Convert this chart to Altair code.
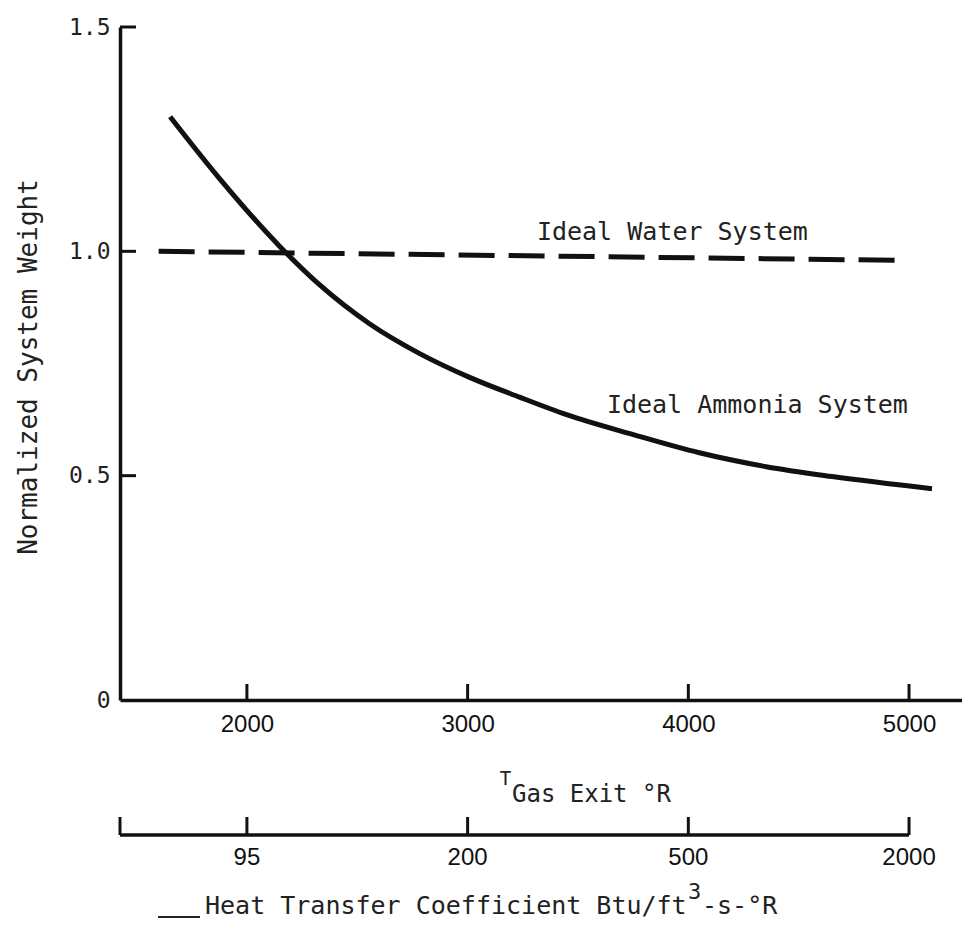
import altair as alt
import pandas as pd

# ---- data ----
t_ammonia = [1652, 1878, 2149, 2330, 2557, 2783, 3009, 3235, 3448, 3747, 4050, 4353, 4652, 5104]
w_ammonia = [1.300, 1.161, 1.011, 0.925, 0.838, 0.772, 0.719, 0.675, 0.636, 0.592, 0.551, 0.520, 0.498, 0.471]
t_water = [1600, 4960]
w_water = [1.0, 0.98]

x_ticks = [2000, 3000, 4000, 5000]
y_ticks = [0.5, 1.0, 1.5]
y_axis_values = [0, 0.5, 1.0, 1.5]

# secondary (heat transfer coefficient) axis, aligned to the T scale
h_start, h_end = 1425, 5000
h_tick_pos = [1425, 2000, 3000, 4000, 5000]
h_tick_pos_labeled = [2000, 3000, 4000, 5000]
h_labels = ["95", "200", "500", "2000"]

ann_text = ["Ideal Water System", "Ideal Ammonia System"]
ann_t = [3314, 3631]
ann_w = [1.043, 0.657]

W, H = 842, 673
MONO = "DejaVu Sans Mono"
SANS = "Liberation Sans"

xs = alt.Scale(domain=[1425, 5240], nice=False, zero=False)
ys = alt.Scale(domain=[0, 1.5], nice=False)

amm = pd.DataFrame({"t": t_ammonia, "w": w_ammonia})
wat = pd.DataFrame({"t": t_water, "w": w_water})

ammonia = alt.Chart(amm).mark_line(color="#111", strokeWidth=5, interpolate="monotone").encode(
    x=alt.X("t:Q", scale=xs, axis=alt.Axis(
        values=x_ticks, ticks=False, grid=False, title=None, domainColor="#111", domainWidth=3.5,
        labelFont=SANS, labelFontSize=24, labelColor="#111", labelPadding=12, format="d")),
    y=alt.Y("w:Q", scale=ys, axis=alt.Axis(
        values=y_axis_values, ticks=False, grid=False, domainColor="#111", domainWidth=3.5,
        labelFont=MONO, labelFontSize=23, labelColor="#222", labelPadding=10,
        labelExpr="datum.value == 0 ? '0' : format(datum.value, '.1f')",
        title="Normalized System Weight", titleFont=MONO, titleFontSize=26,
        titleFontWeight="normal", titleColor="#222", titleX=-92, titleY=H / 2 + 3,
        titleBaseline="middle", titleAngle=270)),
)

water = alt.Chart(wat).mark_line(color="#111", strokeWidth=5, strokeDash=[36, 14]).encode(
    x=alt.X("t:Q", scale=xs), y=alt.Y("w:Q", scale=ys))

xt = alt.Chart(pd.DataFrame({"t": x_ticks})).mark_rule(color="#111", strokeWidth=3).encode(
    x=alt.X("t:Q", scale=xs), y=alt.value(H), y2=alt.value(H - 16))

yt = alt.Chart(pd.DataFrame({"w": y_ticks})).mark_rule(color="#111", strokeWidth=3).encode(
    y=alt.Y("w:Q", scale=ys), x=alt.value(0), x2=alt.value(16))

ann = alt.Chart(pd.DataFrame({"t": ann_t, "w": ann_w, "s": ann_text})).mark_text(
    font=MONO, fontSize=25, color="#222", align="left", baseline="middle").encode(
    x=alt.X("t:Q", scale=xs), y=alt.Y("w:Q", scale=ys), text="s:N")

# x-axis title: T subscript "Gas Exit  °R"
tlab = alt.Chart(pd.DataFrame({"t": [3146], "s": ["T"]})).mark_text(
    font=MONO, fontSize=19, color="#222", align="left", baseline="middle").encode(
    x=alt.X("t:Q", scale=xs), y=alt.value(752), text="s:N")
glab = alt.Chart(pd.DataFrame({"t": [3201], "s": ["Gas Exit  °R"]})).mark_text(
    font=MONO, fontSize=24, color="#222", align="left", baseline="middle").encode(
    x=alt.X("t:Q", scale=xs), y=alt.value(768), text="s:N")

# secondary axis
h_line = alt.Chart(pd.DataFrame({"t": [h_start], "t2": [h_end]})).mark_rule(
    color="#111", strokeWidth=3.5).encode(
    x=alt.X("t:Q", scale=xs), x2="t2:Q", y=alt.value(808))
h_ticks = alt.Chart(pd.DataFrame({"t": h_tick_pos})).mark_rule(color="#111", strokeWidth=3).encode(
    x=alt.X("t:Q", scale=xs), y=alt.value(808), y2=alt.value(790))
h_lab = alt.Chart(pd.DataFrame({"t": h_tick_pos_labeled, "s": h_labels})).mark_text(
    font=SANS, fontSize=24, color="#111", align="center", baseline="middle").encode(
    x=alt.X("t:Q", scale=xs), y=alt.value(831), text="s:N")

# secondary axis title
h_title = alt.Chart(pd.DataFrame({"s": ["Heat Transfer Coefficient Btu/ft"]})).mark_text(
    font=MONO, fontSize=25, color="#222", align="left", baseline="middle").encode(
    x=alt.value(205 - 120), y=alt.value(879), text="s:N")
h_sup = alt.Chart(pd.DataFrame({"s": ["3"]})).mark_text(
    font=MONO, fontSize=22, color="#222", align="left", baseline="middle").encode(
    x=alt.value(688 - 120), y=alt.value(865), text="s:N")
h_tail = alt.Chart(pd.DataFrame({"s": ["-s-°R"]})).mark_text(
    font=MONO, fontSize=25, color="#222", align="left", baseline="middle").encode(
    x=alt.value(702 - 120), y=alt.value(879), text="s:N")
h_under = alt.Chart(pd.DataFrame({"a": [0]})).mark_rule(color="#222", strokeWidth=2).encode(
    x=alt.value(158 - 120), x2=alt.value(200 - 120), y=alt.value(890))

chart = alt.layer(
    ammonia, water, xt, yt, ann, tlab, glab, h_line, h_ticks, h_lab, h_title, h_sup, h_tail, h_under
).properties(
    width=W, height=H,
    autosize=alt.AutoSizeParams(type="none"),
    padding={"left": 112, "top": 19, "right": 0, "bottom": 224},
).configure(background="white").configure_view(stroke=None, strokeWidth=0)

chart.save("out.html", embed_options={"renderer": "svg", "actions": False})
